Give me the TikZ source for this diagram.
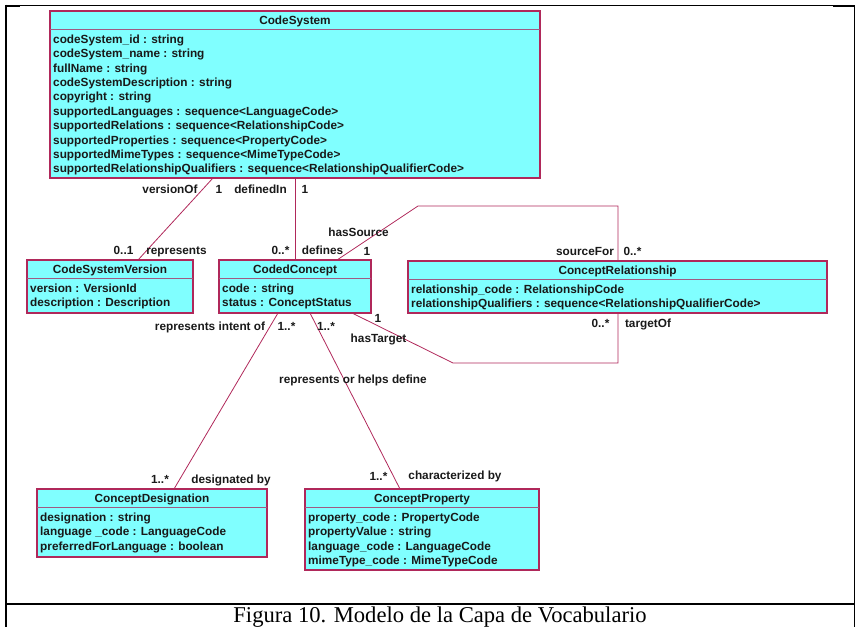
\documentclass[tikz,border=0pt]{standalone}
\usepackage{fontspec}
\setmainfont{Liberation Serif}
\newfontfamily\umlfont{Liberation Sans}
\definecolor{umlfill}{RGB}{128,255,255}
\definecolor{umlline}{RGB}{176,40,90}
\definecolor{umldiv}{RGB}{160,90,130}
\newcommand\umlclass[7]{%
  \node[box, minimum width=#4pt, minimum height=#5pt] (#1) at (#2,#3) {};
  \draw[divider] ([yshift=-18.5pt]#1.north west) -- ([yshift=-18.5pt]#1.north east);
  \node[lbl] (#1-title) at ([yshift=-9.5pt]#1.north) {#6};
  \foreach \t [count=\i] in {#7}
    \node[attr] (#1-\i) at ([xshift=3pt,yshift={-(28.3+14.4*(\i-1))*1pt}]#1.north west) {\t};
}
\begin{document}
\begin{tikzpicture}[x=1pt,y=-1pt,
  box/.style={draw=umlline, line width=1.1pt, fill=umlfill, anchor=north west, inner sep=0pt, outer sep=0pt},
  divider/.style={draw=umldiv, line width=1pt},
  conn/.style={draw=umlline, line width=0.8pt},
  lbl/.style={font=\umlfont\bfseries\fontsize{11.8}{14}\selectfont, inner sep=0pt, text height=10pt, text depth=2pt, text=black!90},
  attr/.style={lbl, anchor=west},
  framethin/.style={draw=black, line width=1pt},
  framethick/.style={draw=black, line width=2pt}
]
\useasboundingbox (0,0) rectangle (856,627);
% frame
\draw[framethin] (5,5.5) -- (855,5.5);
\draw[framethick] (5,5.5) -- (20,5.5);
\draw[framethick] (833,5.5) -- (855,5.5);
\draw[framethick] (6,4.5) -- (6,627);
\draw[framethin] (854.5,5) -- (854.5,627);
\draw[framethick] (5,603.5) -- (855,603.5);
\node[font=\fontsize{22.6}{26}\selectfont, inner sep=0pt] (caption) at (440,617) {Figura 10. Modelo de la Capa de Vocabulario};

% classes
\umlclass{cs}{50}{11}{490}{167}{CodeSystem}{codeSystem\_id : string, codeSystem\_name : string, fullName : string, codeSystemDescription : string, copyright : string, supportedLanguages : sequence<LanguageCode>, supportedRelations : sequence<RelationshipCode>, supportedProperties : sequence<PropertyCode>, supportedMimeTypes : sequence<MimeTypeCode>, supportedRelationshipQualifiers : sequence<RelationshipQualifierCode>}
\umlclass{csv}{27}{260}{166}{53}{CodeSystemVersion}{version : VersionId, description : Description}
\umlclass{cc}{219}{260}{152}{53}{CodedConcept}{code : string, status : ConceptStatus}
\umlclass{cr}{408}{261}{419}{52}{ConceptRelationship}{relationship\_code : RelationshipCode, relationshipQualifiers : sequence<RelationshipQualifierCode>}
\umlclass{cd}{37}{489}{230}{68}{ConceptDesignation}{designation : string, language \_code : LanguageCode, preferredForLanguage : boolean}
\umlclass{cp}{305}{489}{234}{81}{ConceptProperty}{property\_code : PropertyCode, propertyValue : string, language\_code : LanguageCode, mimeType\_code : MimeTypeCode}

% connectors
\draw[conn] ([xshift=163pt]cs.south west) -- ([xshift=111pt]csv.north west);
\draw[conn] ([xshift=245pt]cs.south west) -- ([xshift=76pt]cc.north west);
\draw[conn] ([xshift=118pt]cc.north west) -- ++(81,-54) -| ([xshift=210pt]cr.north west);
\draw[conn] ([xshift=133pt]cc.south west) -- ++(101,50) -| ([xshift=210pt]cr.south west);
\draw[conn] ([xshift=59pt]cc.south west) -- ([xshift=137pt]cd.north west);
\draw[conn] ([xshift=91pt]cc.south west) -- ([xshift=95pt]cp.north west);

% labels
\node[lbl] (l1) at (170,189) {versionOf};
\node[lbl] (l2) at (219,189) {1};
\node[lbl] (l3) at (260.5,189) {definedIn};
\node[lbl] (l4) at (305,189) {1};
\node[lbl] (l5) at (358.5,232) {hasSource};
\node[lbl] (l6) at (123.5,250) {0..1};
\node[lbl] (l7) at (176.5,250) {represents};
\node[lbl] (l8) at (280.5,250) {0..*};
\node[lbl] (l9) at (322.5,250) {defines};
\node[lbl] (l10) at (367,251) {1};
\node[lbl] (l11) at (210,326) {represents intent of};
\node[lbl] (l12) at (286.5,326) {1..*};
\node[lbl] (l13) at (326,326) {1..*};
\node[lbl] (l14) at (378,318) {1};
\node[lbl] (l15) at (378.5,338) {hasTarget};
\node[lbl] (l16) at (353,379) {represents or helps define};
\node[lbl] (l17) at (585,251) {sourceFor};
\node[lbl] (l18) at (632.5,251) {0..*};
\node[lbl] (l19) at (600.5,323) {0..*};
\node[lbl] (l20) at (648,323) {targetOf};
\node[lbl] (l21) at (160,479) {1..*};
\node[lbl] (l22) at (231,479) {designated by};
\node[lbl] (l23) at (378.5,476) {1..*};
\node[lbl] (l24) at (455,475) {characterized by};
\end{tikzpicture}
\end{document}
